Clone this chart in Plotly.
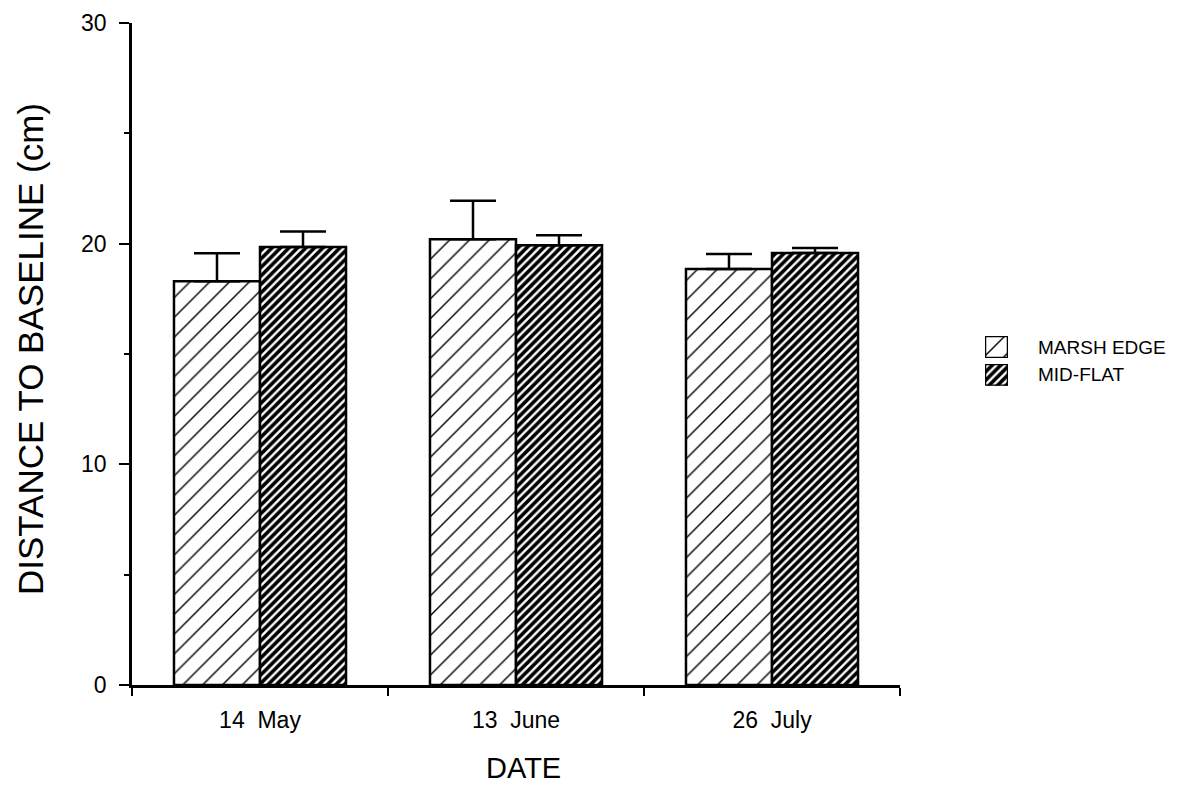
import plotly.graph_objects as go

# Sampling dates and mean distance to baseline (cm) with upper error (SE)
dates = ["14\u00a0\u00a0May", "13\u00a0\u00a0June", "26\u00a0\u00a0July"]
marsh_edge = [18.3, 20.2, 18.85]
marsh_edge_err = [1.27, 1.75, 0.68]
mid_flat = [19.85, 19.93, 19.58]
mid_flat_err = [0.70, 0.45, 0.22]

series_names = ["MARSH EDGE", "MID-FLAT"]

W, H = 1204, 807
ML, MR, MT, MB = 132, 10, 19, 122
PW = W - ML - MR
PH = H - MT - MB
FONT = "Liberation Sans, Arial, Helvetica, sans-serif"


def px_x(x):
    return (x - ML) / PW


def px_y(y):
    return (H - MB - y) / PH


sparse = dict(shape="/", size=14, solidity=0.1, fgcolor="black", bgcolor="white", fgopacity=1)
dense = dict(shape="/", size=6, solidity=0.6, fgcolor="black", bgcolor="white", fgopacity=1)
err_style = dict(type="data", symmetric=False, color="black", thickness=2.5, width=23)

fig = go.Figure()
fig.add_trace(go.Bar(
    x=dates, y=marsh_edge, name=series_names[0],
    marker=dict(color="white", pattern=sparse, line=dict(color="black", width=2.5)),
    error_y=dict(array=marsh_edge_err, arrayminus=[0] * len(dates), **err_style),
    showlegend=False,
))
fig.add_trace(go.Bar(
    x=dates, y=mid_flat, name=series_names[1],
    marker=dict(color="white", pattern=dense, line=dict(color="black", width=2.5)),
    error_y=dict(array=mid_flat_err, arrayminus=[0] * len(dates), **err_style),
    showlegend=False,
))

# Legend swatches drawn as single bars in small hidden axes
legend_boxes = [(334, 356), (362, 384)]
for i, (pat, (ytop, ybot)) in enumerate(zip([sparse, dense], legend_boxes)):
    ax = i + 2
    fig.add_trace(go.Bar(
        x=[0], y=[1], width=[1],
        marker=dict(color="white", pattern=pat, line=dict(color="black", width=2.5)),
        xaxis=f"x{ax}", yaxis=f"y{ax}", showlegend=False, hoverinfo="skip",
    ))
    fig.update_layout(**{
        f"xaxis{ax}": dict(domain=[px_x(985), px_x(1008)], range=[-0.5, 0.5],
                           visible=False, anchor=f"y{ax}", fixedrange=True),
        f"yaxis{ax}": dict(domain=[px_y(ybot), px_y(ytop)], range=[0, 1],
                           visible=False, anchor=f"x{ax}", fixedrange=True),
    })
    fig.add_annotation(
        x=px_x(1036), y=px_y((ytop + ybot) / 2), xref="paper", yref="paper",
        text=series_names[i], showarrow=False, xanchor="left", yanchor="middle",
        font=dict(family=FONT, size=19, color="black"),
    )

fig.update_layout(
    width=W, height=H,
    margin=dict(l=ML, r=MR, t=MT, b=MB, pad=0),
    paper_bgcolor="white", plot_bgcolor="white",
    barmode="group", bargap=0.328, bargroupgap=0,
    font=dict(family=FONT, color="black"),
    xaxis=dict(
        domain=[0, 768 / PW], range=[-0.5, 2.5],
        showline=True, linecolor="black", linewidth=2.5,
        ticks="outside", tickson="boundaries", ticklen=8, tickwidth=2, tickcolor="black",
        showgrid=False, zeroline=False,
        tickfont=dict(family=FONT, size=23, color="black"),
        ticklabelstandoff=13,
    ),
    yaxis=dict(
        range=[0, 30], tickvals=[0, 10, 20, 30],
        showline=True, linecolor="black", linewidth=2.5,
        ticks="outside", ticklen=10, tickwidth=2, tickcolor="black",
        minor=dict(tickvals=[5, 15, 25], ticks="outside", ticklen=5, tickwidth=2, tickcolor="black"),
        showgrid=False, zeroline=False,
        tickfont=dict(family=FONT, size=23, color="black"),
        ticklabelstandoff=8,
    ),
)

fig.add_annotation(
    x=px_x(30), y=px_y(347), xref="paper", yref="paper",
    text="DISTANCE TO BASELINE (cm)", textangle=-90, showarrow=False,
    xanchor="center", yanchor="middle",
    font=dict(family=FONT, size=35, color="black"),
)
fig.add_annotation(
    x=px_x(523), y=px_y(768), xref="paper", yref="paper",
    text="DATE", showarrow=False, xanchor="center", yanchor="middle",
    font=dict(family=FONT, size=29, color="black"),
)

fig.write_html("out.html")
